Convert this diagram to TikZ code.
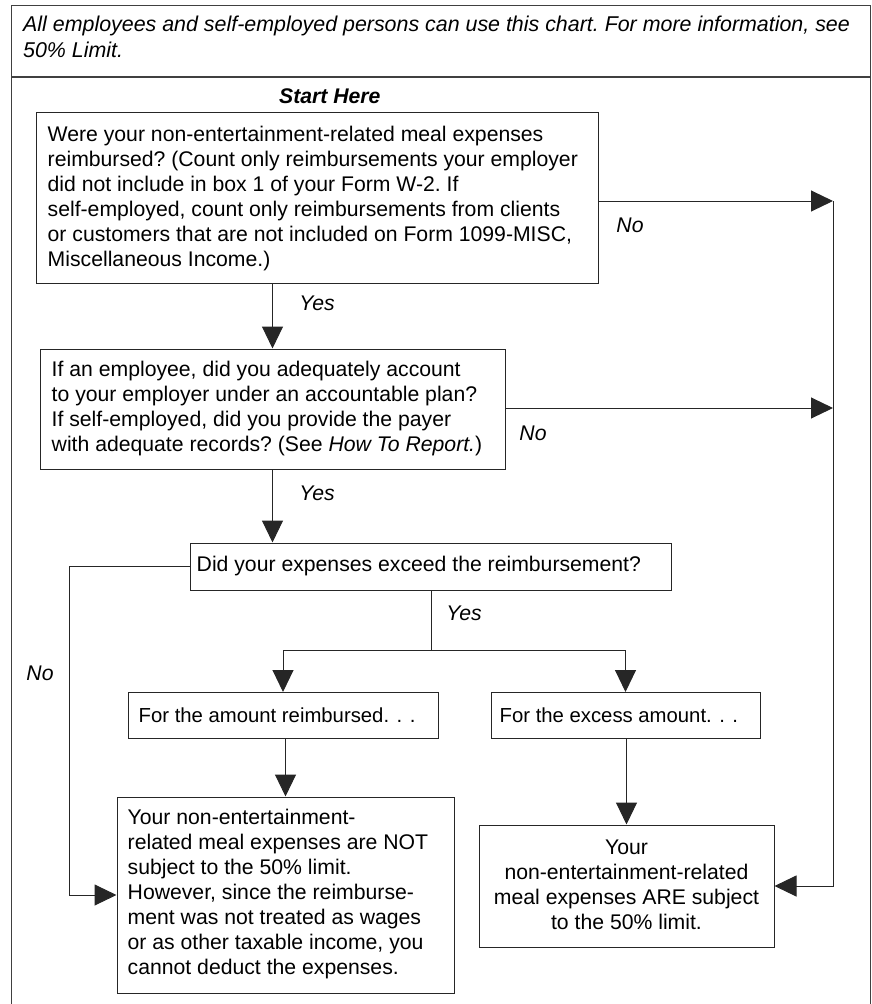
\documentclass[tikz,border=0pt]{standalone}
\usepackage{fontspec}
\setmainfont{Liberation Sans}
\usetikzlibrary{arrows.meta}
\newcommand{\bodyfnt}{\fontsize{21.2}{25}\selectfont\frenchspacing}
\tikzset{
  box/.style={draw=black!85, line width=1pt, inner sep=0pt},
  txt/.style={inner sep=0pt, align=left, font=\bodyfnt},
  arr/.style={draw=black!85, line width=1pt, -{Triangle[length=22pt,width=21pt]}},
  conn/.style={draw=black!85, line width=1pt},
  lbl/.style={font=\bodyfnt\itshape, inner sep=0pt},
}
\begin{document}
\begin{tikzpicture}[x=1pt,y=-1pt]
\useasboundingbox (0,0) rectangle (872,1004);
% frame
\draw[black!75, line width=1.2pt] (11.5,1004) -- (11.5,5.5) -- (870.5,5.5) -- (870.5,1004);
\draw[black!75, line width=1.2pt] (11.5,77) -- (870.5,77);
\node[anchor=west, align=left, font=\fontsize{21.4}{26}\selectfont\itshape\frenchspacing, inner sep=0pt] (hdr) at (23,37)
  {All employees and self-employed persons can use this chart. For more information, see\\50\% Limit.};
\node[anchor=west, font=\bodyfnt\bfseries\itshape, inner sep=0pt] (start) at (279,96) {Start Here};
% boxes
\node[box, minimum width=562pt, minimum height=171pt] (b1) at (317,197.5) {};
\node[box, minimum width=465pt, minimum height=120pt] (b2) at (272.5,409) {};
\node[box, minimum width=481pt, minimum height=47pt] (b3) at (430.5,566.5) {};
\node[box, minimum width=310pt, minimum height=46pt] (b4) at (283,715.5) {};
\node[box, minimum width=269pt, minimum height=46pt] (b5) at (625.5,715.5) {};
\node[box, minimum width=337pt, minimum height=196pt] (b6) at (285.5,895) {};
\node[box, minimum width=295pt, minimum height=122pt] (b7) at (626.5,886) {};
% texts
\node[txt, anchor=west] (t1) at ([xshift=12pt,yshift=-1pt]b1.west)
  {Were your non-entertainment-related meal expenses\\
   reimbursed? (Count only reimbursements your employer\\
   did not include in box 1 of your Form W-2. If\\
   self-employed, count only reimbursements from clients\\
   or customers that are not included on Form 1099-MISC,\\
   Miscellaneous Income.)};
\node[txt, anchor=west] (t2) at ([xshift=12pt]b2.west)
  {If an employee, did you adequately account\\
   to your employer under an accountable plan?\\
   If self-employed, did you provide the payer\\
   with adequate records? (See \textit{How To Report.})};
\node[txt, anchor=west] (t3) at ([xshift=7pt]b3.west)
  {Did your expenses exceed the reimbursement?};
\node[txt, anchor=west, font=\fontsize{20.3}{25}\selectfont] (t4) at ([xshift=11pt]b4.west)
  {For the amount reimbursed. . .};
\node[txt, anchor=west, font=\fontsize{20.3}{25}\selectfont] (t5) at ([xshift=9pt]b5.west)
  {For the excess amount. . .};
\node[txt, anchor=west] (t6) at ([xshift=11pt,yshift=1pt]b6.west)
  {Your non-entertainment-\\
   related meal expenses are NOT\\
   subject to the 50\% limit.\\
   However, since the reimburse-\\
   ment was not treated as wages\\
   or as other taxable income, you\\
   cannot deduct the expenses.};
\node[txt, align=center] (t7) at ([yshift=1pt]b7.center)
  {Your\\
   non-entertainment-related\\
   meal expenses ARE subject\\
   to the 50\% limit.};
% coordinates
\coordinate (r1) at (833,201);
\coordinate (r2) at (833,408);
\coordinate (rb) at (833,886);
\coordinate (lt) at (69,566.5);
\coordinate (lb) at (69,895);
\coordinate (sp) at (431,650);
\coordinate (spl) at (283,650);
\coordinate (spr) at (625.5,650);
% connectors
\draw[arr] (b1.east |- r1) -- (r1);
\draw[arr] (b2.east |- r2) -- (r2);
\draw[arr] (r1) -- (rb) -- (b7.east);
\draw[arr] (b2.north |- b1.south) -- (b2.north);
\draw[arr] (b2.south) -- (b2.south |- b3.north);
\draw[arr] (b3.west) -- (lt) -- (lb) -- (b6.west);
\draw[conn] (b3.south -| sp) -- (sp);
\draw[arr] (sp) -- (spl) -- (b4.north);
\draw[arr] (sp) -- (spr) -- (b5.north);
\draw[arr] (b4.south -| b6.north) -- (b6.north);
\draw[arr] (b5.south -| b7.north) -- (b7.north);
% labels
\node[lbl] (y1) at (317,303) {Yes};
\node[lbl] (y2) at (317,493) {Yes};
\node[lbl] (y3) at (464,613) {Yes};
\node[lbl] (n1) at (630,225) {No};
\node[lbl] (n2) at (533,433) {No};
\node[lbl] (n3) at (40,673) {No};
\end{tikzpicture}
\end{document}
